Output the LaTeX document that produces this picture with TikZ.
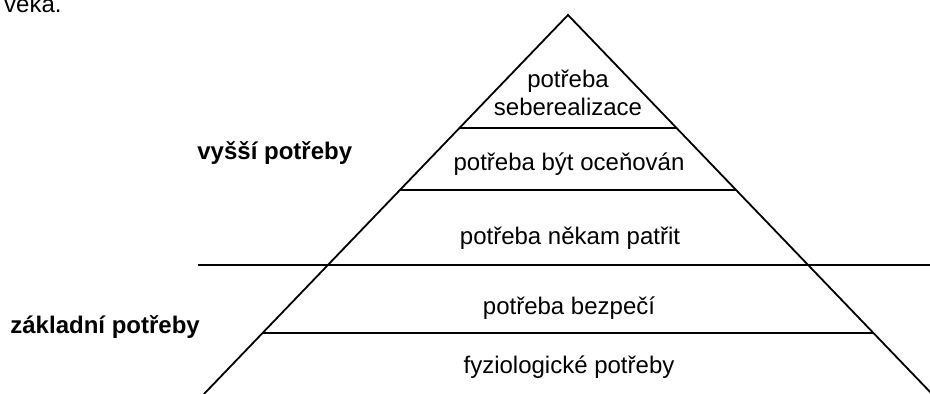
\documentclass[tikz,border=0pt]{standalone}
\usepackage{fontspec}
\setmainfont{Liberation Sans}
\usetikzlibrary{calc}
\begin{document}
\begin{tikzpicture}[x=0.5pt,y=-0.5pt,
  ln/.style={line width=0.9pt,black},
  lbl/.style={anchor=base,inner sep=0pt,font=\fontsize{12}{14}\selectfont},
  blbl/.style={anchor=base west,inner sep=0pt,font=\fontsize{12}{14}\selectfont\bfseries}]
\useasboundingbox (0,0) rectangle (930,394);
% pyramid corners
\coordinate (A) at (568,15);
\coordinate (BL) at (204,394);
\coordinate (BR) at (932,394);
\draw[ln] (BL) -- (A) -- (BR);
% layer lines
\coordinate (L1) at ($(A)!0.2982!(BL)$);
\coordinate (R1) at ($(A)!0.2982!(BR)$);
\coordinate (L2) at ($(A)!0.4617!(BL)$);
\coordinate (R2) at ($(A)!0.4617!(BR)$);
\coordinate (L3) at ($(A)!0.8391!(BL)$);
\coordinate (R3) at ($(A)!0.8391!(BR)$);
\draw[ln] (L1) -- (R1);
\draw[ln] (L2) -- (R2);
\draw[ln] (L3) -- (R3);
% divider line
\coordinate (DL) at (198,265);
\coordinate (DR) at (930,265);
\draw[ln] (DL) -- (DR);
% texts
\node[lbl] (t1a) at (568,88) {potřeba};
\node[lbl] (t1b) at (568,116) {seberealizace};
\node[lbl] (t2) at (569,171) {potřeba být oceňován};
\node[lbl] (t3) at (570,245) {potřeba někam patřit};
\node[lbl] (t4) at (569,315) {potřeba bezpečí};
\node[lbl] (t5) at (569,374) {fyziologické potřeby};
\node[blbl] (hi) at (197,160) {vyšší potřeby};
\node[blbl] (lo) at (10,334) {základní potřeby};
\node[anchor=base east,inner sep=0pt,font=\fontsize{12}{14}\selectfont] (top) at (62,13) {veka.};
\end{tikzpicture}
\end{document}
